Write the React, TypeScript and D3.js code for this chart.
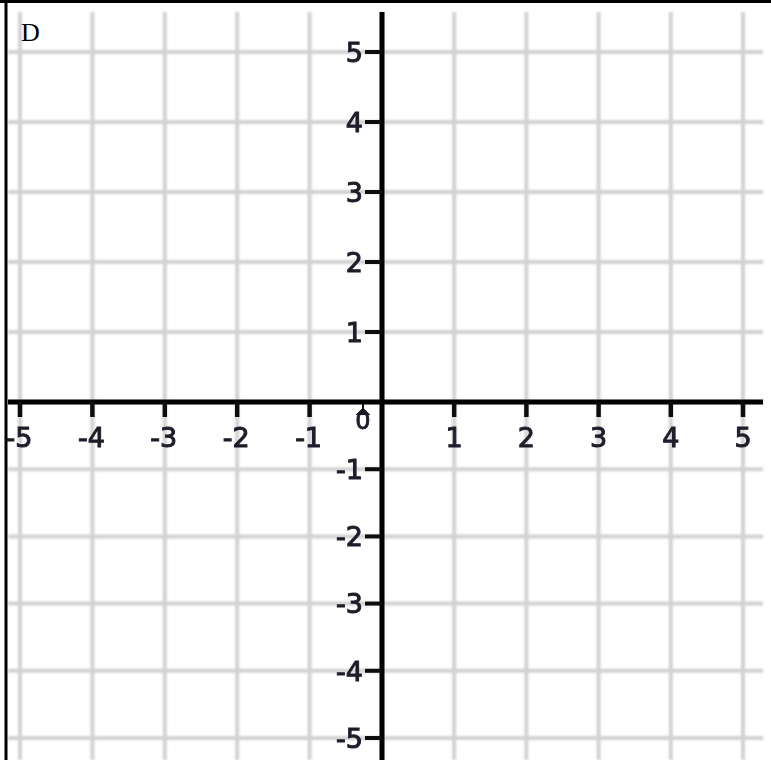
import React, { useEffect, useRef } from 'react';
import * as d3 from 'd3';

// values on the axes
const gridValues = [-5, -4, -3, -2, -1, 0, 1, 2, 3, 4, 5];
const xTickValues = [-5, -4, -3, -2, -1, 1, 2, 3, 4, 5];
const yTickValues = [-5, -4, -3, -2, -1, 1, 2, 3, 4, 5];
const xTickLabels = ['-5', '-4', '-3', '-2', '-1', '1', '2', '3', '4', '5'];
const yTickLabels = ['-5', '-4', '-3', '-2', '-1', '1', '2', '3', '4', '5'];
const originLabel = '0';
const panelLabel = 'D';

const App = () => {
  const ref = useRef<SVGSVGElement>(null);

  useEffect(() => {
    if (!ref.current) return;
    const width = 771;
    const height = 760;

    // the scanned grid is a bit uneven, so split the scale at the origin
    const x = d3.scaleLinear().domain([-5, 0, 5]).range([20, 382, 743]);
    const y = d3.scaleLinear().domain([-5, 0, 5]).range([738, 402, 52]);

    const svg = d3.select(ref.current);
    svg.selectAll('*').remove();
    svg.attr('width', width).attr('height', height);

    const defs = svg.append('defs');
    defs.append('filter').attr('id', 'soft')
      .append('feGaussianBlur').attr('stdDeviation', 1);
    defs.append('filter').attr('id', 'softer')
      .append('feGaussianBlur').attr('stdDeviation', 0.5);

    svg.append('rect').attr('width', width).attr('height', height).attr('fill', '#fff');

    // grid
    const grid = svg.append('g').attr('filter', 'url(#soft)');
    grid.selectAll('.vgrid')
      .data(gridValues)
      .enter().append('line')
      .attr('class', 'vgrid')
      .attr('x1', d => x(d)).attr('x2', d => x(d))
      .attr('y1', 12).attr('y2', height)
      .style('stroke', '#d2d2d2').style('stroke-width', 4);
    grid.selectAll('.hgrid')
      .data(gridValues)
      .enter().append('line')
      .attr('class', 'hgrid')
      .attr('x1', 8).attr('x2', 763)
      .attr('y1', d => y(d)).attr('y2', d => y(d))
      .style('stroke', '#d2d2d2').style('stroke-width', 4);

    const axes = svg.append('g').attr('filter', 'url(#softer)');

    // main axes
    axes.append('line')
      .attr('x1', 8).attr('x2', 763)
      .attr('y1', y(0)).attr('y2', y(0))
      .style('stroke', '#000').style('stroke-width', 5);
    axes.append('line')
      .attr('x1', x(0)).attr('x2', x(0))
      .attr('y1', 12).attr('y2', height)
      .style('stroke', '#000').style('stroke-width', 5);

    // tick marks
    axes.selectAll('.xtick')
      .data(xTickValues)
      .enter().append('line')
      .attr('class', 'xtick')
      .attr('x1', d => x(d)).attr('x2', d => x(d))
      .attr('y1', y(0)).attr('y2', y(0) + 15)
      .style('stroke', '#111').style('stroke-width', 4.5);
    axes.selectAll('.ytick')
      .data(yTickValues)
      .enter().append('line')
      .attr('class', 'ytick')
      .attr('x1', x(0) - 17).attr('x2', x(0))
      .attr('y1', d => y(d)).attr('y2', d => y(d))
      .style('stroke', '#111').style('stroke-width', 4);
    // little mark over the origin label
    axes.append('path')
      .attr('d', `M${x(0) - 19},${y(0) + 2}L${x(0) - 19},${y(0) + 7}L${x(0) - 24},${y(0) + 12}L${x(0) - 14},${y(0) + 12}L${x(0) - 19},${y(0) + 7}`)
      .style('fill', '#111').style('stroke', '#111').style('stroke-width', 2);

    const labelFont = '"DejaVu Sans", Verdana, sans-serif';

    axes.selectAll('.xlabel')
      .data(xTickValues)
      .enter().append('text')
      .attr('class', 'xlabel')
      .attr('x', d => x(d) + (d < 0 ? -1 : 0))
      .attr('y', y(0) + 45)
      .attr('text-anchor', 'middle')
      .style('font-family', labelFont)
      .style('font-size', '27px')
      .style('fill', '#1c1c2a')
      .style('stroke', '#1c1c2a').style('stroke-width', 1)
      .text((d, i) => xTickLabels[i]);

    axes.selectAll('.ylabel')
      .data(yTickValues)
      .enter().append('text')
      .attr('class', 'ylabel')
      .attr('x', x(0) - 19)
      .attr('y', d => y(d))
      .attr('dy', '0.36em')
      .attr('text-anchor', 'end')
      .style('font-family', labelFont)
      .style('font-size', '27px')
      .style('fill', '#1c1c2a')
      .style('stroke', '#1c1c2a').style('stroke-width', 1)
      .text((d, i) => yTickLabels[i]);

    axes.append('text')
      .attr('x', x(0) - 19)
      .attr('y', y(0) + 27)
      .attr('text-anchor', 'middle')
      .style('font-family', labelFont)
      .style('font-size', '24px')
      .style('fill', '#1c1c2a')
      .style('stroke', '#1c1c2a').style('stroke-width', 0.8)
      .text(originLabel);

    // frame, only left and top show in the crop
    svg.append('line')
      .attr('x1', 0).attr('x2', width)
      .attr('y1', 1.5).attr('y2', 1.5)
      .style('stroke', '#000').style('stroke-width', 3);
    svg.append('line')
      .attr('x1', 6).attr('x2', 6)
      .attr('y1', 0).attr('y2', height)
      .style('stroke', '#000').style('stroke-width', 3);

    svg.append('text')
      .attr('x', 21)
      .attr('y', 41)
      .style('font-family', '"Liberation Serif", "Times New Roman", serif')
      .style('font-size', '26px')
      .style('fill', '#000')
      .text(panelLabel);
  }, []);

  return (
    <svg
      ref={ref}
      style={{ position: 'absolute', left: 0, top: 0, display: 'block' }}
    />
  );
};

export default App;
